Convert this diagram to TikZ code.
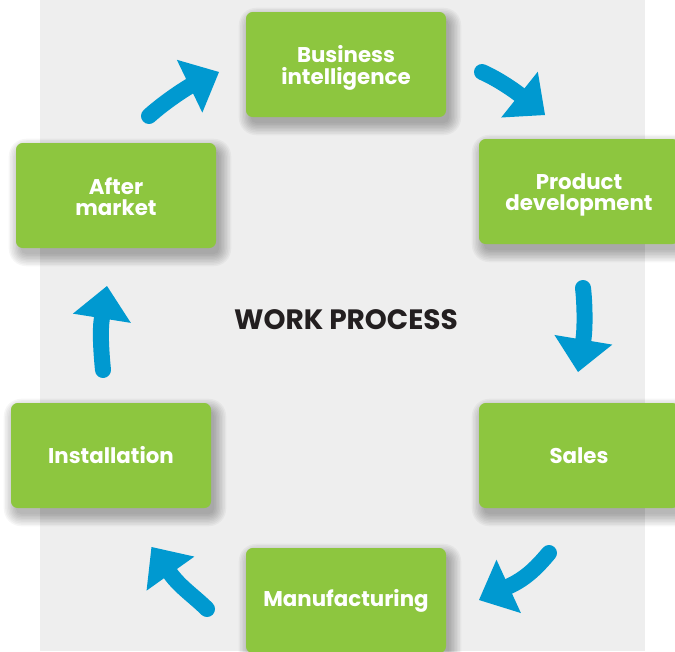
\documentclass[tikz,border=0pt]{standalone}
\usepackage{fontspec}
\newfontfamily\labelfont{Poppins}
\usetikzlibrary{arrows.meta,calc}
\definecolor{leaf}{HTML}{8DC63F}
\definecolor{sky}{HTML}{0099D0}
\definecolor{paper}{HTML}{EEEEEE}
\definecolor{ink}{HTML}{231F20}
\pgfdeclarelayer{ground}
\pgfdeclarelayer{shade}
\pgfsetlayers{ground,shade,main}
% two centred lines, set a little lower in the box (box keeps its size)
\newcommand{\twolines}[2]{\raisebox{-3pt}[\height][\depth]{\begin{tabular}{@{}c@{}}#1\\[-0.9pt]#2\end{tabular}}}
\begin{document}
\begin{tikzpicture}[x=0.75pt,y=-0.75pt,
  stage/.style={fill=leaf, rounded corners=5pt, minimum width=150pt,
    minimum height=78.75pt, inner sep=0pt, align=center, text=white,
    font=\labelfont\bfseries\fontsize{16pt}{15.75pt}\selectfont},
  flow/.style={draw=sky, line width=12pt, line cap=round,
    -{Triangle[width=44pt,length=24.5pt,line width=0pt]}}]

\useasboundingbox (0,0) rectangle (675,651);
\begin{pgfonlayer}{ground}
  \fill[paper] (40,0) rectangle (645,651);
\end{pgfonlayer}

% process stages
\node[stage] (bi)    at (346,64.5)  {\twolines{Business}{intelligence}};
\node[stage] (pd)    at (579,191.5) {\twolines{Product}{development}};
\node[stage] (am)    at (116,195.5) {\twolines{After}{market}};
\node[stage] (inst)  at (111,455.5) {Installation};
\node[stage] (sales) at (579,455.5) {Sales};
\node[stage] (manu)  at (346,600.5) {Manufacturing};

% soft drop shadows, built from stacked translucent rounded rectangles
\begin{pgfonlayer}{shade}
  \foreach \n in {bi,pd,am,inst,sales,manu}{
    \foreach \e in {-1,0.5,...,11}{
      \fill[black, fill opacity=0.034, rounded corners=5pt+0.75pt*\e]
        ($(\n.north west)+(4-\e,7-\e)$) rectangle ($(\n.south east)+(4+\e,7+\e)$);
    }
  }
\end{pgfonlayer}

\node[font=\labelfont\bfseries\fontsize{21pt}{24pt}\selectfont, text=ink]
  (title) at (346,320) {WORK PROCESS};

% curved arrows between the stages
\coordinate (a1s) at (149,116); \coordinate (a1e) at (219,72);
\coordinate (a2s) at (482,72);  \coordinate (a2e) at (545,115);
\coordinate (a3s) at (583,288); \coordinate (a3e) at (578,372);
\coordinate (a4s) at (549,553); \coordinate (a4e) at (479,600);
\coordinate (a5s) at (207,609); \coordinate (a5e) at (151.5,547);
\coordinate (a6s) at (103,370); \coordinate (a6e) at (107,286);

\draw[flow] (a1s) .. controls (168,99) and (190,86) .. (a1e);
\draw[flow] (a2s) .. controls (498,79) and (515,91) .. (a2e);
\draw[flow] (a3s) .. controls (585,305) and (585,330) .. (a3e);
\draw[flow] (a4s) .. controls (538,566) and (527,578) .. (a4e);
\draw[flow] (a5s) .. controls (195,597) and (180,587) .. (a5e);
\draw[flow] (a6s) .. controls (101,350) and (100,330) .. (a6e);
\end{tikzpicture}
\end{document}
